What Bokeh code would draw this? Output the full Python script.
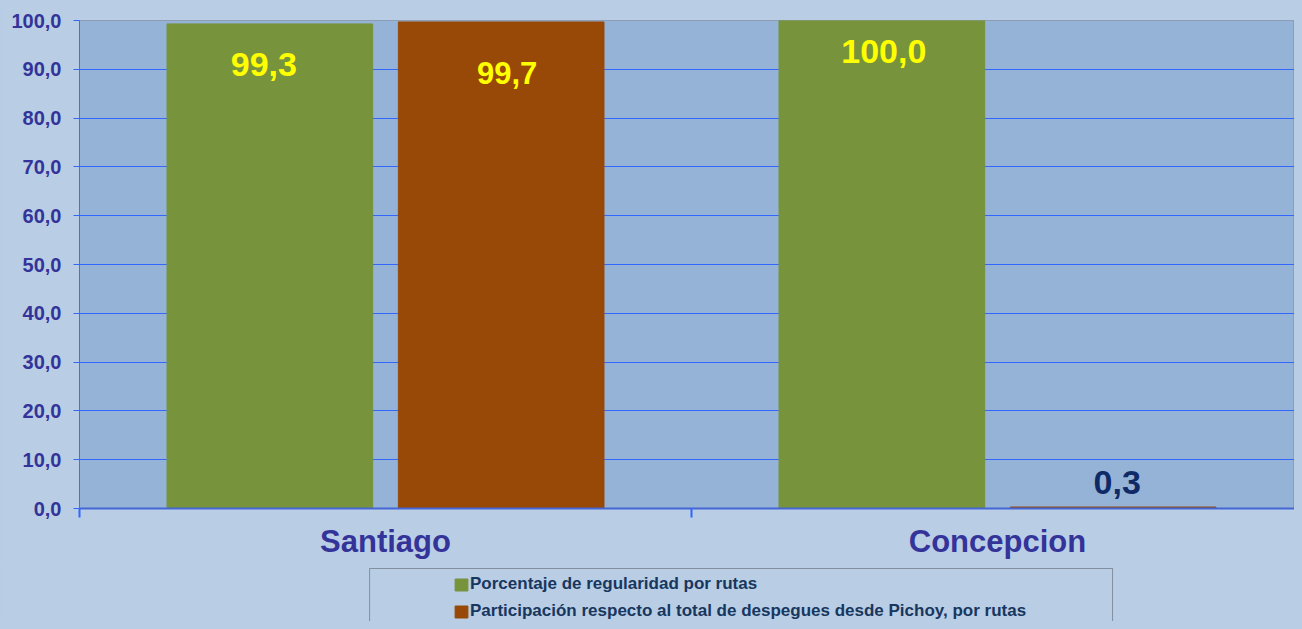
from bokeh.plotting import figure
from bokeh.layouts import column
from bokeh.models import (ColumnDataSource, Range1d, FixedTicker, Legend, LegendItem,
                          BoxAnnotation, GlobalInlineStyleSheet)
from bokeh.core.properties import value
from bokeh.embed import file_html
from bokeh.resources import INLINE

# ---------------- data ----------------
categories = ["Santiago", "Concepcion"]
series_names = ["Porcentaje de regularidad por rutas",
                "Participación respecto al total de despegues desde Pichoy, por rutas"]
regularidad = [99.3, 100.0]
participacion = [99.7, 0.3]
y_ticks = [0, 10, 20, 30, 40, 50, 60, 70, 80, 90, 100]

# ---------------- style ----------------
FONT = "Liberation Sans"
BG = "#b9cde5"
PLOT_BG = "#95b3d7"
GREEN = "#77933c"
BROWN = "#984807"
GRID = "#3366ff"
AXIS_TXT = "#333399"
LEG_TXT = "#17375e"
BAR_W = 0.336
DODGE = 0.189
# label styling: (x offset px, y offset px from bar top, font size, colour)
lab_reg_style = [(-6, 41, "34px", "#ffff00"), (2, 31, "34px", "#ffff00")]
lab_par_style = [(6, 51, "31px", "#ffff00"), (4, -25, "34px", "#0f2a66")]


def fmt(v):
    return f"{v:.1f}".replace(".", ",")


n = len(categories)
centers = [i + 0.5 for i in range(n)]

xr = Range1d(0, n * 1215 / 1224)
p = figure(width=1294, height=561, output_backend="svg", toolbar_location=None,
           x_range=xr, y_range=Range1d(0, 100),
           min_border_left=79, min_border_right=0, min_border_top=20, min_border_bottom=53,
           background_fill_color=PLOT_BG, border_fill_color=BG,
           outline_line_color="#8e9db3", outline_line_width=1)

src_reg = ColumnDataSource(dict(
    x=[c - DODGE for c in centers], top=regularidad,
    label=[fmt(v) for v in regularidad],
    xo=[s[0] for s in lab_reg_style], yo=[s[1] for s in lab_reg_style],
    fs=[s[2] for s in lab_reg_style], col=[s[3] for s in lab_reg_style]))
src_par = ColumnDataSource(dict(
    x=[c + DODGE for c in centers], top=participacion,
    label=[fmt(v) for v in participacion],
    xo=[s[0] for s in lab_par_style], yo=[s[1] for s in lab_par_style],
    fs=[s[2] for s in lab_par_style], col=[s[3] for s in lab_par_style]))

p.vbar(x="x", top="top", bottom=0, width=BAR_W, source=src_reg,
       fill_color=GREEN, line_color=GREEN)
p.vbar(x="x", top="top", bottom=0, width=BAR_W, source=src_par,
       fill_color=BROWN, line_color=BROWN)

for src in (src_reg, src_par):
    p.text(x="x", y="top", text="label", source=src, x_offset="xo", y_offset="yo",
           text_font=value(FONT), text_font_style="bold", text_font_size="fs",
           text_color="col", text_align="center", text_baseline="middle")

# y axis
ya = p.yaxis[0]
ya.ticker = FixedTicker(ticks=y_ticks)
ya.major_label_overrides = {t: fmt(t) for t in y_ticks}
ya.axis_line_color = "#4a6fd6"
ya.axis_line_width = 1
ya.major_tick_out = 6
ya.major_tick_in = 0
ya.major_tick_line_color = GRID
ya.minor_tick_line_color = None
ya.major_label_text_font = FONT
ya.major_label_text_font_style = "bold"
ya.major_label_text_font_size = "20px"
ya.major_label_text_color = AXIS_TXT
ya.major_label_standoff = 12

# x axis
xa = p.xaxis[0]
xa.ticker = FixedTicker(ticks=centers, minor_ticks=list(range(n + 1)))
xa.major_label_overrides = {c: name for c, name in zip(centers, categories)}
xa.major_tick_line_color = None
xa.major_tick_out = 0
xa.major_tick_in = 0
xa.minor_tick_out = 9
xa.minor_tick_in = 0
xa.minor_tick_line_color = GRID
xa.minor_tick_line_width = 2
xa.axis_line_color = "#4466d6"
xa.axis_line_width = 2
xa.major_label_text_font = FONT
xa.major_label_text_font_style = "bold"
xa.major_label_text_font_size = "31px"
xa.major_label_text_color = AXIS_TXT
xa.major_label_standoff = 6

p.xgrid.visible = False
p.ygrid.ticker = FixedTicker(ticks=y_ticks)
p.ygrid.grid_line_color = GRID
p.ygrid.grid_line_width = 1

# ---------------- legend strip ----------------
q = figure(width=1294, height=60, output_backend="svg", toolbar_location=None,
           x_range=xr, y_range=Range1d(0, 1),
           x_axis_location=None, y_axis_location=None,
           min_border_left=79, min_border_right=0, min_border_top=0, min_border_bottom=0,
           background_fill_color=BG, border_fill_color=BG, outline_line_color=None)
q.xgrid.visible = False
q.ygrid.visible = False

# legend swatches (same styling as the bars, no visible data)
nan = float("nan")
sw_reg = q.vbar(x=[nan], top=[nan], bottom=0, width=BAR_W,
                fill_color=GREEN, line_color=GREEN)
sw_par = q.vbar(x=[nan], top=[nan], bottom=0, width=BAR_W,
                fill_color=BROWN, line_color=BROWN)

# legend frame
q.add_layout(BoxAnnotation(left=0.474, right=1.688, top=0.883, bottom=-0.5,
                           fill_alpha=0, line_color="black", line_width=1, level="underlay"))

legend = Legend(items=[LegendItem(label=series_names[0], renderers=[sw_reg]),
                       LegendItem(label=series_names[1], renderers=[sw_par])],
                location=(374, 0), orientation="vertical",
                background_fill_alpha=0, border_line_color=None,
                padding=0, margin=0, spacing=7,
                glyph_height=15, glyph_width=16, label_height=20, label_standoff=1,
                label_text_font=FONT, label_text_font_style="bold",
                label_text_font_size="17px", label_text_color=LEG_TXT)
q.add_layout(legend, "center")

layout = column(p, q, spacing=0)
layout.stylesheets = [GlobalInlineStyleSheet(css="html, body { background-color: #b9cde5; }")]

open("out.html", "w").write(file_html(layout, INLINE))
